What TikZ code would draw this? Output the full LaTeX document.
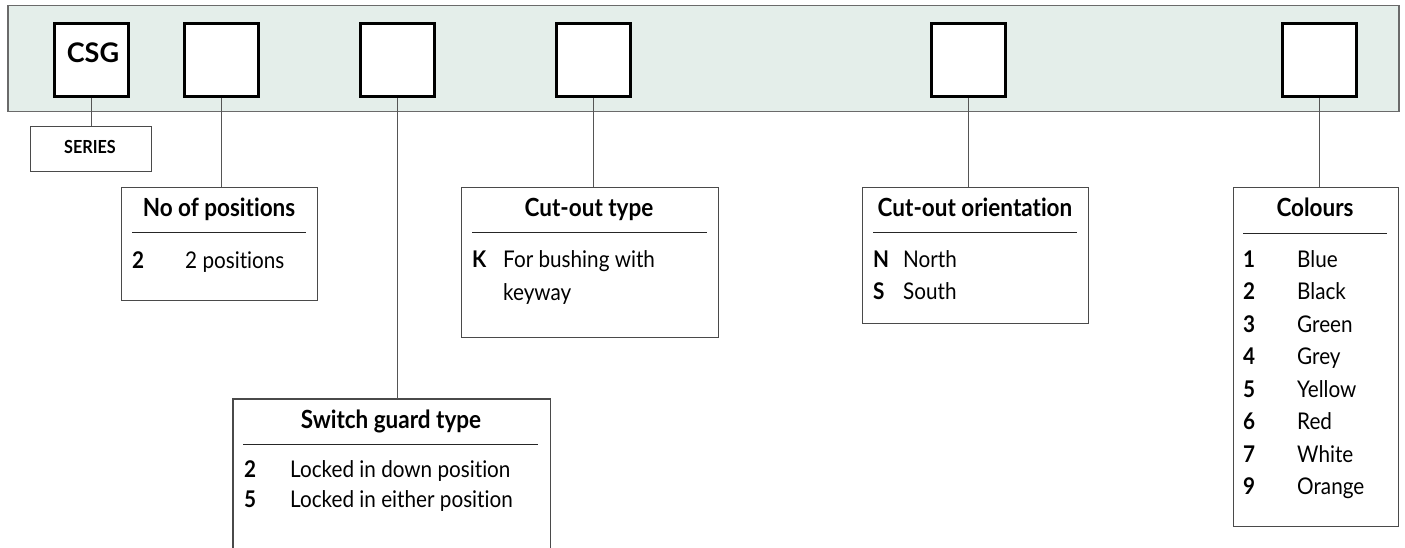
\documentclass[tikz,border=0pt]{standalone}
\usepackage{fontspec}
\setmainfont{Lato}[FakeStretch=0.9, Ligatures={NoCommon}]
\newfontfamily\widefont{Lato}[Ligatures={NoCommon}]
\definecolor{bandfill}{HTML}{E4EEEA}
\definecolor{bandline}{HTML}{6A6A6A}
\definecolor{boxline}{HTML}{4A4A4A}
\definecolor{connline}{HTML}{555555}
\tikzset{
  codebox/.style={draw=black, line width=3pt, fill=white, minimum width=74pt, minimum height=73pt, inner sep=0pt, anchor=north west},
  infobox/.style={draw=boxline, line width=1.2pt, fill=white, anchor=north west, inner sep=0pt},
  conn/.style={draw=connline, line width=1.2pt},
  sepline/.style={draw=black!85, line width=1pt},
  ttl/.style={font=\fontsize{25}{28}\selectfont\bfseries, anchor=base, inner sep=0pt},
  num/.style={font=\fontsize{23}{26}\selectfont\bfseries, anchor=base west, inner sep=0pt},
  txt/.style={font=\fontsize{23}{26}\selectfont, anchor=base west, inner sep=0pt}
}
\begin{document}
\begin{tikzpicture}[x=1pt, y=-1pt]
\useasboundingbox (0,0) rectangle (1405,548);
% band
\node[draw=bandline, line width=1.5pt, fill=bandfill, anchor=north west, minimum width=1391pt, minimum height=106pt, inner sep=0pt] (band) at (7,5) {};
% code boxes
\node[codebox] (c1) at (53,22) {};
\node[font=\widefont\fontsize{27}{30}\selectfont\bfseries, anchor=base, inner sep=0pt] (csg) at (93,63) {CSG};
\node[codebox] (c2) at (183,22) {};
\node[codebox] (c3) at (359,22) {};
\node[codebox] (c4) at (555,22) {};
\node[codebox] (c5) at (930,22) {};
\node[codebox] (c6) at (1281,22) {};

% SERIES
\node[infobox, minimum width=121pt, minimum height=45pt] (ser) at (30,126) {};
\node[font=\fontsize{18}{20}\selectfont\bfseries, anchor=base, inner sep=0pt] (sert) at (90,154) {SERIES};
\draw[conn] (c1.south) -- (c1.south |- ser.north);

% No of positions
\node[infobox, minimum width=196pt, minimum height=113pt] (nop) at (121,187) {};
\draw[conn] (c2.south) -- (c2.south |- nop.north);
\node[ttl] (nopt) at (219,216) {No of positions};
\coordinate (nopsa) at (132,232);
\coordinate (nopsb) at (306,232);
\draw[sepline] (nopsa) -- (nopsb);
\node[num] (nopn1) at (132,268) {2};
\node[txt] (nopx1) at (185,268) {2 positions};

% Switch guard type (open bottom)
\node[anchor=north west, minimum width=317pt, minimum height=149pt, inner sep=0pt] (sg) at (233,399) {};
\fill[white] (sg.north west) rectangle (sg.south east);
\draw[draw=boxline, line width=1.2pt] (sg.south west) -- (sg.north west) -- (sg.north east) -- (sg.south east);
\draw[conn] (c3.south) -- (c3.south |- sg.north);
\node[ttl] (sgt) at (391,428) {Switch guard type};
\coordinate (sgsa) at (243,444);
\coordinate (sgsb) at (538,444);
\draw[sepline] (sgsa) -- (sgsb);
\node[num] (sgn1) at (244,477) {2};
\node[txt] (sgx1) at (290,477) {Locked in down position};
\node[num] (sgn2) at (244,507) {5};
\node[txt] (sgx2) at (290,507) {Locked in either position};

% Cut-out type
\node[infobox, minimum width=257pt, minimum height=150pt] (ct) at (461,187) {};
\draw[conn] (c4.south) -- (c4.south |- ct.north);
\node[ttl] (ctt) at (589,216) {Cut-out type};
\coordinate (ctsa) at (472,232);
\coordinate (ctsb) at (707,232);
\draw[sepline] (ctsa) -- (ctsb);
\node[num] (ctn1) at (472,267) {K};
\node[txt] (ctx1) at (503,267) {For bushing with};
\node[txt] (ctx2) at (503,300) {keyway};

% Cut-out orientation
\node[infobox, minimum width=226pt, minimum height=136pt] (co) at (862,187) {};
\draw[conn] (c5.south) -- (c5.south |- co.north);
\node[ttl] (cot) at (975,216) {Cut-out orientation};
\coordinate (cosa) at (873,232);
\coordinate (cosb) at (1077,232);
\draw[sepline] (cosa) -- (cosb);
\node[num] (con1) at (873,267) {N};
\node[txt] (cox1) at (903,267) {North};
\node[num] (con2) at (873,299) {S};
\node[txt] (cox2) at (903,299) {South};

% Colours
\node[infobox, minimum width=165pt, minimum height=339pt] (col) at (1233,187) {};
\draw[conn] (c6.south) -- (c6.south |- col.north);
\node[ttl] (colt) at (1315,217) {Colours};
\coordinate (colsa) at (1243,233);
\coordinate (colsb) at (1387,233);
\draw[sepline] (colsa) -- (colsb);
\foreach \k/\n/\t in {0/1/Blue,1/2/Black,2/3/Green,3/4/Grey,4/5/Yellow,5/6/Red,6/7/White,7/9/Orange}{
  \node[num] (coln\n) at (1243,267+32.5*\k) {\n};
  \node[txt] (colx\n) at (1297,267+32.5*\k) {\t};
}
\end{tikzpicture}
\end{document}
